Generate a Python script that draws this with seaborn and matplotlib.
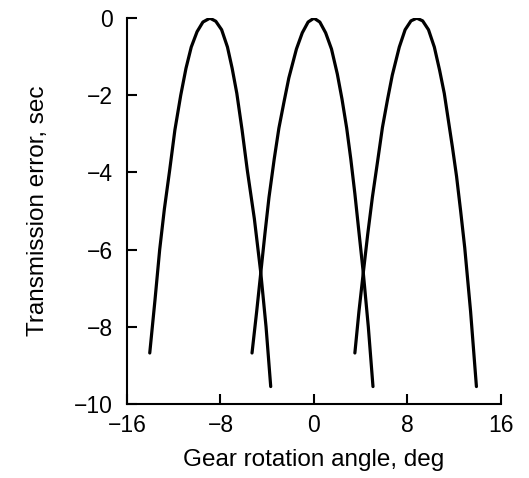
import matplotlib
matplotlib.use("Agg")
import matplotlib.pyplot as plt
import seaborn as sns
import pandas as pd

# Curve data
curve1_x = [-14.05, -13.6, -13.2, -12.8, -12.35, -11.9, -11.4, -10.95, -10.5, -10.0, -9.5, -8.9,
            -8.4, -7.9, -7.4, -7.0, -6.6, -6.15, -5.7, -5.1, -4.55, -4.1, -3.7]
curve1_y = [-8.68, -7.3, -6.0, -4.95, -3.95, -2.9, -2.0, -1.3, -0.75, -0.35, -0.1, 0.0,
            -0.08, -0.3, -0.75, -1.3, -1.95, -2.9, -3.95, -5.2, -6.6, -8.0, -9.55]

curve2_x = [-5.3, -4.9, -4.55, -4.2, -3.85, -3.4, -3.0, -2.55, -2.15, -1.5, -1.0, -0.5, 0.0,
            0.5, 1.0, 1.5, 2.0, 2.4, 2.8, 3.15, 3.5, 3.85, 4.22, 4.65, 5.05]
curve2_y = [-8.68, -7.6, -6.6, -5.6, -4.65, -3.65, -2.85, -2.15, -1.55, -0.8, -0.38, -0.1, 0.0,
            -0.1, -0.38, -0.8, -1.45, -2.1, -2.85, -3.65, -4.55, -5.55, -6.6, -8.0, -9.55]

curve3_x = [3.5, 3.85, 4.22, 4.6, 5.0, 5.45, 5.86, 6.3, 6.7, 7.3, 7.8, 8.3, 8.8,
            9.3, 9.8, 10.3, 10.75, 11.15, 11.5, 11.85, 12.2, 12.55, 12.9, 13.4, 13.9]
curve3_y = [-8.68, -7.6, -6.6, -5.6, -4.64, -3.7, -2.83, -2.1, -1.48, -0.75, -0.3, -0.07, 0.0,
            -0.07, -0.3, -0.75, -1.35, -1.95, -2.65, -3.35, -4.1, -5.0, -5.95, -7.6, -9.55]

x_ticks = [-16, -8, 0, 8, 16]
y_ticks = [0, -2, -4, -6, -8, -10]
x_tick_labels = ["\u221216", "\u22128", "0", "8", "16"]
y_tick_labels = ["0", "\u22122", "\u22124", "\u22126", "\u22128", "\u221210"]
x_label = "Gear rotation angle, deg"
y_label = "Transmission error, sec"

sns.set_style("ticks")
plt.rcParams['font.family'] = ['Liberation Sans', 'DejaVu Sans']

frames = []
for name, xs, ys in [("c1", curve1_x, curve1_y), ("c2", curve2_x, curve2_y), ("c3", curve3_x, curve3_y)]:
    frames.append(pd.DataFrame({"x": xs, "y": ys, "curve": name}))
df = pd.concat(frames, ignore_index=True)

fig = plt.figure(figsize=(5.29, 4.78), dpi=100)
ax = fig.add_axes([0.240, 0.155, 0.707, 0.807])

for name, sub in df.groupby("curve"):
    sns.lineplot(data=sub, x="x", y="y", sort=False, color="black", linewidth=2.3,
                 ax=ax, legend=False, estimator=None)

ax.set_xlim(-16, 16)
ax.set_ylim(-10, 0)
ax.set_xticks(x_ticks)
ax.set_yticks(y_ticks)
ax.set_xticklabels(x_tick_labels)
ax.set_yticklabels(y_tick_labels)
ax.tick_params(direction="in", length=7, width=1.5, colors="black", labelsize=16.5, pad=7)
ax.tick_params(axis="y", pad=10)

sns.despine(ax=ax)
for sp in ["left", "bottom"]:
    ax.spines[sp].set_linewidth(1.5)
    ax.spines[sp].set_color("black")

ax.set_xlabel(x_label, fontsize=17.5, color="black", labelpad=9)
ax.set_ylabel(y_label, fontsize=17.5, color="black", labelpad=18)

fig.savefig("out.png", dpi=100)
